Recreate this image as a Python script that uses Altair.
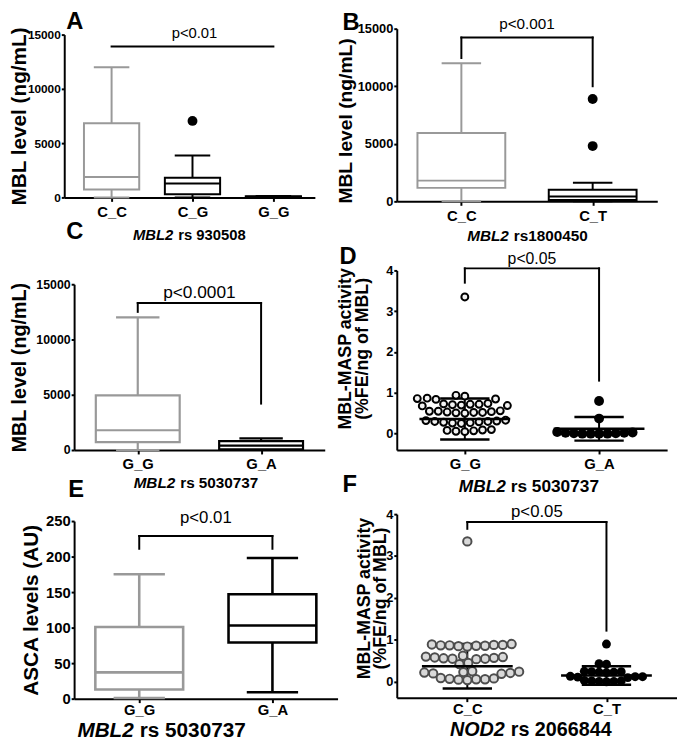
import altair as alt
import pandas as pd

FONT = "Liberation Sans"
GRAY = "#999999"
BLACK = "#000000"

# ======================= data =======================
# Panel A - MBL level by MBL2 rs 930508 (box plot)
A_CATS = ["C_C", "C_G", "G_G"]
A_LOW = [0, 0, 0]
A_Q1 = [730, 300, 30]
A_MED = [1880, 1275, 60]
A_Q3 = [6830, 1820, 110]
A_HIGH = [12000, 3860, 140]
A_OUT_CAT = ["C_G"]
A_OUT_VAL = [7050]
A_BR_TOP = 13900
A_BR_END = []
A_P = "p<0.01"
A_P_Y = 15100

# Panel B - MBL level by MBL2 rs1800450
B_CATS = ["C_C", "C_T"]
B_LOW = [0, 0]
B_Q1 = [1170, 120]
B_MED = [1800, 430]
B_Q3 = [5940, 1000]
B_HIGH = [12000, 1620]
B_OUT_CAT = ["C_T", "C_T"]
B_OUT_VAL = [8890, 4800]
B_BR_TOP = 14230
B_BR_END = [12450, 10000]
B_P = "p<0.001"
B_P_Y = 15430

# Panel C - MBL level by MBL2 rs 5030737
C_CATS = ["G_G", "G_A"]
C_LOW = [0, 0]
C_Q1 = [720, 50]
C_MED = [1790, 390]
C_Q3 = [4950, 800]
C_HIGH = [12000, 1050]
C_OUT_CAT = []
C_OUT_VAL = []
C_BR_TOP = 13300
C_BR_END = [12500, 4200]
C_P = "p<0.0001"
C_P_Y = 14200

# Panel D - MBL-MASP activity by MBL2 rs 5030737 (dot plot)
D_CATS = ["G_G", "G_A"]
D_VALS_GG = [0.94, 0.92, 0.87, 0.86, 0.85, 0.84, 0.74, 0.73, 0.72, 0.72, 0.71,
             0.70, 0.69, 0.68, 0.56, 0.55, 0.55, 0.54, 0.53, 0.52, 0.52, 0.51,
             0.50, 0.33, 0.32, 0.31, 0.30, 0.30, 0.29, 0.28, 0.27, 0.26, 0.25,
             0.10, 0.09, 0.08, 0.07, 0.06, 0.05, 3.35]
D_VALS_GA = [0.80, 0.37, 0.04, 0.03, 0.02, 0.02, 0.01, 0.01, 0.0, 0.0, 0.0, 0.0]
D_MEAN = [0.36, 0.12]
D_SD = [0.50, 0.29]
D_BR_TOP = 4.05
D_BR_END = [3.7, 1.3]
D_P = "p<0.05"
D_P_Y = 4.27

# Panel E - ASCA levels by MBL2 rs 5030737
E_CATS = ["G_G", "G_A"]
E_LOW = [1, 9]
E_Q1 = [13, 79]
E_MED = [37, 103]
E_Q3 = [101, 147]
E_HIGH = [175, 198]
E_OUT_CAT = []
E_OUT_VAL = []
E_BR_TOP = 229
E_BR_END = [211, 211]
E_P = "p<0.01"
E_P_Y = 254

# Panel F - MBL-MASP activity by NOD2 rs 2066844
F_CATS = ["C_C", "C_T"]
F_VALS_CC = [0.90, 0.89, 0.88, 0.88, 0.87, 0.87, 0.86, 0.86, 0.85, 0.84,
             0.62, 0.60, 0.59, 0.58, 0.57, 0.56, 0.55, 0.55, 0.54, 0.45, 0.42,
             0.25, 0.24, 0.23, 0.22, 0.21, 0.20, 0.19,
             0.09, 0.08, 0.07, 0.06, 0.06, 0.05, 0.04, 3.35]
F_VALS_CT = [0.90, 0.43, 0.42, 0.25, 0.24, 0.24, 0.23, 0.23, 0.22,
             0.13, 0.12, 0.12, 0.11, 0.10, 0.03, 0.02, 0.02, 0.01, 0.01, 0.0]
F_MEAN = [0.37, 0.15]
F_SD = [0.53, 0.22]
F_BR_TOP = 3.81
F_BR_END = [3.65, 1.22]
F_P = "p<0.05"
F_P_Y = 4.05

MBL_TICKS = [0, 5000, 10000, 15000]
ACT_TICKS = [0, 1, 2, 3, 4]
ASCA_TICKS = [0, 50, 100, 150, 200, 250]

# ======================= geometry / style =======================
GEO = {
    "A": dict(w=244, h=171, ydom=[0, 15000], ytop=6, xrange=[-10, 244], pad=0.549, align=0.533,
              yoff=10, tick_fs=12, yt_fs=21, yt_x=-35, xl_fs=15, xl_pad=3, xt_fs=15, tx=100, ty=43,
              gap=5, p_fs=15, sw=2, bw=56, cw=36, osz=100, let_dx=-8, let_dy=7),
    "B": dict(w=264, h=175, ydom=[0, 15000], ytop=0, pad=0.492, align=0.5,
              yoff=0, tick_fs=13, yt_fs=19.5, yt_x=-42, yt_y=93, xl_fs=15, xl_pad=3, xt_fs=15.5,
              tx=113, ty=40, gap=5, p_fs=15.5, sw=2, bw=89, cw=40, osz=100, let_dx=-55, let_dy=18),
    "C": dict(w=254, h=187, ydom=[0, 15000], ytop=19, pad=0.516, align=0.5,
              yoff=0, tick_fs=12.5, yt_fs=20, yt_x=-45, xl_fs=15, xl_pad=3, xt_fs=15.5, tx=102, ty=38,
              gap=5, p_fs=17.5, sw=2.2, bw=85, cw=44, osz=100, let_dx=-8, let_dy=-22),
    "D": dict(w=274, h=187, ydom=[-0.4, 4], ytop=5, pad=0.507, align=0.5,
              yoff=0, tick_fs=13, yt_fs=18, yt_x=-43, yt_y=84, yt_lh=17,
              xl_fs=15, xl_pad=3, xt_fs=17.5, tx=110, ty=42, gap=5,
              p_fs=16, let_dx=-58, let_dy=18, ppu=41.36),
    "E": dict(w=267, h=187, ydom=[0, 250], ytop=7, pad=0.489, align=0.5,
              yoff=0, tick_fs=15, yt_fs=21, yt_x=-33, xl_fs=15, xl_pad=0, xt_fs=21, tx=60, ty=38,
              gap=6, p_fs=17, sw=2.6, bw=89, cw=52, osz=100, let_dx=-6, let_dy=-8),
    "F": dict(w=284, h=186, ydom=[-0.38, 4], ytop=0, pad=0.507, align=0.5,
              yoff=0, tick_fs=13, yt_fs=18, yt_x=-24, yt_y=85, yt_lh=17,
              xl_fs=15, xl_pad=0, xt_fs=20, tx=109, ty=38, gap=6,
              p_fs=17, let_dx=-55, let_dy=-6, ppu=42.47),
}


def swarm(values, diam, ppu):
    """Greedy beeswarm layout: horizontal pixel offsets so dots do not overlap."""
    order = sorted(range(len(values)), key=lambda i: values[i])
    placed = []
    offs = [0.0] * len(values)
    for i in order:
        y = values[i] * ppu
        cands = [0.0]
        for px, py in placed:
            dy = y - py
            if abs(dy) < diam:
                dx = (diam * diam - dy * dy) ** 0.5
                cands.extend([px + dx, px - dx])
        cands.sort(key=lambda c: (abs(c), c))
        for c in cands:
            if all((c - px) ** 2 + (y - py) ** 2 >= diam * diam - 1e-6 for px, py in placed):
                offs[i] = c
                placed.append((c, y))
                break
    return offs


def x_scale(g, cats):
    kw = dict(type="point", domain=cats, padding=g["pad"], align=g["align"])
    if "xrange" in g:
        kw["range"] = g["xrange"]
    return alt.Scale(**kw)


def y_scale(g):
    return alt.Scale(domain=g["ydom"], range=[g["h"], g["ytop"]], nice=False, zero=False)


def y_axis(g, ticks, title):
    kw = dict(values=ticks, format="d", title=title, grid=False,
              labelFont=FONT, labelFontSize=g["tick_fs"], labelFontWeight="bold",
              labelColor=BLACK, labelPadding=1,
              domainColor=BLACK, domainWidth=2, tickColor=BLACK, tickWidth=2, tickSize=3,
              titleFont=FONT, titleFontSize=g["yt_fs"], titleFontWeight="bold",
              titleColor=BLACK, titleX=g["yt_x"], offset=g["yoff"])
    if "yt_y" in g:
        kw["titleY"] = g["yt_y"]
    if "yt_lh" in g:
        kw["titleLineHeight"] = g["yt_lh"]
    return alt.Axis(**kw)


def x_axis_main(g, gene):
    return alt.Axis(orient="bottom", title=gene, grid=False,
                    titleFont=FONT, titleFontSize=g["xt_fs"], titleFontWeight="bold",
                    titleFontStyle="italic", titleAlign="right", titleBaseline="alphabetic",
                    titleX=g["tx"], titleY=g["ty"], titleColor=BLACK,
                    labelFont=FONT, labelFontSize=g["xl_fs"], labelFontWeight="bold",
                    labelColor=BLACK, labelAngle=0, labelPadding=g["xl_pad"],
                    domainColor=BLACK, domainWidth=2, tickColor=BLACK, tickWidth=2, tickSize=4)


def x_axis_rest(g, rest):
    return alt.Axis(orient="bottom", title=rest, labels=False, ticks=False, domain=False,
                    grid=False, titleFont=FONT, titleFontSize=g["xt_fs"], titleFontWeight="bold",
                    titleFontStyle="normal", titleAlign="left", titleBaseline="alphabetic",
                    titleX=g["tx"] + g["gap"], titleY=g["ty"], titleColor=BLACK)


def letter(text, g):
    return alt.TitleParams(text=text, anchor="start", frame="group", font=FONT, fontSize=24,
                           fontWeight="bold", color=BLACK, dx=g["let_dx"], dy=g["let_dy"], offset=0)


def annotation_layers(cats, br_top, br_end, ptxt, py, xs, ys, g, rest):
    hdf = pd.DataFrame({"c1": [cats[0]], "c2": [cats[-1]], "top": [br_top]})
    layers = [alt.Chart(hdf).mark_rule(strokeWidth=2, color=BLACK, strokeCap="square").encode(
        x=alt.X("c1:N", scale=xs, axis=x_axis_rest(g, rest)), x2="c2:N",
        y=alt.Y("top:Q", scale=ys, axis=None))]
    if br_end:
        ldf = pd.DataFrame({"c": [cats[0], cats[-1]], "top": [br_top, br_top], "end": br_end})
        layers.append(alt.Chart(ldf).mark_rule(strokeWidth=2, color=BLACK, strokeCap="square").encode(
            x=alt.X("c:N", scale=xs, axis=None),
            y=alt.Y("top:Q", scale=ys, axis=None), y2="end:Q"))
    tdf = pd.DataFrame({"t": [ptxt], "y": [py]})
    layers.append(alt.Chart(tdf).mark_text(font=FONT, fontSize=g["p_fs"], baseline="middle",
                                           align="center", color=BLACK).encode(
        y=alt.Y("y:Q", scale=ys, axis=None), text="t:N"))
    return layers


def finish(layers, key, g):
    return alt.layer(*layers).resolve_axis(x="independent", y="independent").properties(
        width=g["w"], height=g["h"], title=letter(key, g))


def box_panel(key, cats, low, q1, med, q3, high, out_cat, out_val, br_top, br_end,
              ptxt, py, yticks, ytitle, gene, rest):
    g = GEO[key]
    xs = x_scale(g, cats)
    ys = y_scale(g)
    cs = alt.Scale(domain=cats, range=[GRAY] + [BLACK] * (len(cats) - 1))
    df = pd.DataFrame({"cat": cats, "low": low, "q1": q1, "med": med, "q3": q3, "high": high})
    base = alt.Chart(df)
    col = alt.Color("cat:N", scale=cs, legend=None)

    def X(axis=None):
        return alt.X("cat:N", scale=xs, axis=axis)

    layers = [
        base.mark_rule(strokeWidth=g["sw"]).encode(
            x=X(), y=alt.Y("low:Q", scale=ys, axis=y_axis(g, yticks, ytitle)), y2="high:Q", color=col),
        base.mark_bar(size=g["bw"], fill="white", strokeWidth=g["sw"], opacity=1).encode(
            x=X(x_axis_main(g, gene)), y=alt.Y("q1:Q", scale=ys, axis=None), y2="q3:Q",
            stroke=alt.Stroke("cat:N", scale=cs, legend=None)),
        base.mark_tick(size=g["bw"], thickness=g["sw"], opacity=1).encode(
            x=X(), y=alt.Y("med:Q", scale=ys, axis=None), color=col),
        base.mark_tick(size=g["cw"], thickness=g["sw"], opacity=1).encode(
            x=X(), y=alt.Y("high:Q", scale=ys, axis=None), color=col),
        base.mark_tick(size=g["cw"], thickness=g["sw"], opacity=1).encode(
            x=X(), y=alt.Y("low:Q", scale=ys, axis=None), color=col),
    ]
    if out_cat:
        odf = pd.DataFrame({"cat": out_cat, "val": out_val})
        layers.append(alt.Chart(odf).mark_circle(size=g["osz"], color=BLACK, opacity=1).encode(
            x=X(), y=alt.Y("val:Q", scale=ys, axis=None)))
    layers += annotation_layers(cats, br_top, br_end, ptxt, py, xs, ys, g, rest)
    return finish(layers, key, g)


def dot_panel(key, cats, vals1, vals2, means, sds, sty, br_top, br_end,
              ptxt, py, ytitle, gene, rest):
    g = GEO[key]
    xs = x_scale(g, cats)
    ys = y_scale(g)
    off_scale = alt.Scale(domain=[-80, 80], range=[-80, 80])
    d1 = pd.DataFrame({"cat": cats[0], "val": vals1,
                       "off": swarm(vals1, sty["gap"], g["ppu"])})
    d2 = pd.DataFrame({"cat": cats[1], "val": vals2,
                       "off": swarm(vals2, sty["gap2"], g["ppu"])})
    st = pd.DataFrame({"cat": cats, "mean": means,
                       "lo": [m - s for m, s in zip(means, sds)],
                       "hi": [m + s for m, s in zip(means, sds)]})

    def X(axis=None):
        return alt.X("cat:N", scale=xs, axis=axis)

    sbase = alt.Chart(st)
    layers = [
        sbase.mark_rule(strokeWidth=2, color=BLACK).encode(
            x=X(), y=alt.Y("lo:Q", scale=ys, axis=y_axis(g, ACT_TICKS, ytitle)), y2="hi:Q"),
        sbase.mark_tick(size=50, thickness=2.5, color=BLACK, opacity=1).encode(
            x=X(), y=alt.Y("lo:Q", scale=ys, axis=None)),
        sbase.mark_tick(size=50, thickness=2.5, color=BLACK, opacity=1).encode(
            x=X(), y=alt.Y("hi:Q", scale=ys, axis=None)),
        alt.Chart(d1).mark_point(shape="circle", filled=True, fill=sty["fill"],
                                 stroke=sty["stroke"], strokeWidth=sty["sw"],
                                 size=sty["size"], opacity=1).encode(
            x=X(), xOffset=alt.XOffset("off:Q", scale=off_scale),
            y=alt.Y("val:Q", scale=ys, axis=None)),
        alt.Chart(d2).mark_circle(color=BLACK, size=sty["size2"], opacity=1).encode(
            x=X(), xOffset=alt.XOffset("off:Q", scale=off_scale),
            y=alt.Y("val:Q", scale=ys, axis=None)),
        sbase.mark_tick(size=92, thickness=2.5, color=BLACK, opacity=1).encode(
            x=X(x_axis_main(g, gene)), y=alt.Y("mean:Q", scale=ys, axis=None)),
    ]
    layers += annotation_layers(cats, br_top, br_end, ptxt, py, xs, ys, g, rest)
    return finish(layers, key, g)


pA = box_panel("A", A_CATS, A_LOW, A_Q1, A_MED, A_Q3, A_HIGH, A_OUT_CAT, A_OUT_VAL,
               A_BR_TOP, A_BR_END, A_P, A_P_Y, MBL_TICKS, "MBL level (ng/mL)", "MBL2", "rs 930508")
pB = box_panel("B", B_CATS, B_LOW, B_Q1, B_MED, B_Q3, B_HIGH, B_OUT_CAT, B_OUT_VAL,
               B_BR_TOP, B_BR_END, B_P, B_P_Y, MBL_TICKS, "MBL level (ng/mL)", "MBL2", "rs1800450")
pC = box_panel("C", C_CATS, C_LOW, C_Q1, C_MED, C_Q3, C_HIGH, C_OUT_CAT, C_OUT_VAL,
               C_BR_TOP, C_BR_END, C_P, C_P_Y, MBL_TICKS, "MBL level (ng/mL)", "MBL2", "rs 5030737")
pD = dot_panel("D", D_CATS, D_VALS_GG, D_VALS_GA, D_MEAN, D_SD,
               dict(fill="#f2f2f2", stroke=BLACK, sw=2, size=49, gap=9, size2=100, gap2=8.5),
               D_BR_TOP, D_BR_END, D_P, D_P_Y,
               ["MBL-MASP activity", "(%FE/ng of MBL)"], "MBL2", "rs 5030737")
pE = box_panel("E", E_CATS, E_LOW, E_Q1, E_MED, E_Q3, E_HIGH, E_OUT_CAT, E_OUT_VAL,
               E_BR_TOP, E_BR_END, E_P, E_P_Y, ASCA_TICKS, "ASCA levels (AU)", "MBL2", "rs 5030737")
pF = dot_panel("F", F_CATS, F_VALS_CC, F_VALS_CT, F_MEAN, F_SD,
               dict(fill="#d9d9d9", stroke="#4d4d4d", sw=2, size=72, gap=9, size2=81, gap2=7.5),
               F_BR_TOP, F_BR_END, F_P, F_P_Y,
               ["MBL-MASP activity", "(%FE/ng of MBL)"], "NOD2", "rs 2066844")

chart = alt.concat(pA, pB, pC, pD, pE, pF, columns=2,
                   spacing={"row": 65, "column": 60}, bounds="flush", align="each") \
    .resolve_scale(color="independent", stroke="independent") \
    .configure_view(stroke=None) \
    .properties(padding={"left": 0, "top": -4, "right": 0, "bottom": 0}, background="white")

chart.save("out.html", embed_options={"renderer": "svg", "actions": False})
